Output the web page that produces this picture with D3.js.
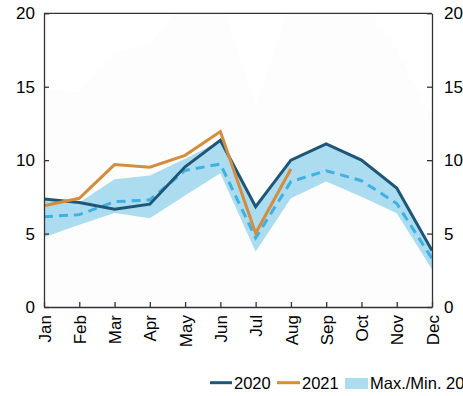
<!DOCTYPE html>
<html>
<head>
<meta charset="utf-8">
<script src="https://cdn.jsdelivr.net/npm/d3@7"></script>
<style>
  html, body { margin: 0; padding: 0; background: #fff; }
  svg { display: block; font-family: "Liberation Sans", Arial, Helvetica, sans-serif; }
</style>
</head>
<body>
<svg id="chart" width="463" height="396"></svg>
<script>
const months = ["Jan","Feb","Mar","Apr","May","Jun","Jul","Aug","Sep","Oct","Nov","Dec"];
const yTicks = [0, 5, 10, 15, 20];
const series2020 = [7.36, 7.12, 6.66, 7.0, 9.55, 11.35, 6.83, 10.0, 11.1, 10.0, 8.1, 3.84];
const series2021 = [6.9, 7.4, 9.7, 9.52, 10.33, 11.95, 5.02, 9.4];
const meanLine = [6.15, 6.29, 7.17, 7.29, 9.3, 9.74, 4.7, 8.54, 9.28, 8.6, 7.05, 3.3];
const bandMax = [7.36, 7.12, 8.7, 8.95, 10.1, 11.3, 6.83, 10.0, 11.1, 10.0, 8.1, 3.84];
const bandMin = [4.75, 5.6, 6.4, 6.04, 7.6, 9.1, 3.77, 7.4, 8.54, 7.5, 6.38, 2.57];
const histMax = [14.9, 14.6, 17.3, 17.9, 21, 21, 13.8, 21, 22, 21, 17.5, 13];
const legendLabels = ["2020", "2021", "Max./Min. 2016-2020"];

const colors = { s2020: "#1f5677", s2021: "#d48c3e", band: "#acdcf0", mean: "#3fb0e2", hist: "#fdfdfd", axis: "#333" };

const svg = d3.select("#chart");
const L = 44, R = 432, T = 13.3, B = 307;

const x = d3.scalePoint().domain(months).range([L, R]);
const y = d3.scaleLinear().domain([0, 20]).range([B, T]);

const defs = svg.append("defs");
defs.append("clipPath").attr("id", "plotclip")
  .append("rect").attr("x", L).attr("y", T).attr("width", R - L).attr("height", B - T);

const plot = svg.append("g").attr("clip-path", "url(#plotclip)");

// faint historic area
plot.append("path")
  .datum(months.map((m, i) => ({ m, v: histMax[i] })))
  .attr("fill", colors.hist)
  .attr("d", d3.area().x(d => x(d.m)).y0(y(0)).y1(d => y(d.v)));

// band
plot.append("path")
  .datum(months.map((m, i) => ({ m, lo: bandMin[i], hi: bandMax[i] })))
  .attr("fill", colors.band)
  .attr("d", d3.area().x(d => x(d.m)).y0(d => y(d.lo)).y1(d => y(d.hi)));

const line = d3.line().x(d => x(d.m)).y(d => y(d.v));

plot.append("path")
  .datum(months.map((m, i) => ({ m, v: meanLine[i] })))
  .attr("fill", "none").attr("stroke", colors.mean).attr("stroke-width", 3)
  .attr("stroke-dasharray", "9,6")
  .attr("d", line);

plot.append("path")
  .datum(months.map((m, i) => ({ m, v: series2020[i] })))
  .attr("fill", "none").attr("stroke", colors.s2020).attr("stroke-width", 3)
  .attr("stroke-linejoin", "miter")
  .attr("d", line);

plot.append("path")
  .datum(series2021.map((v, i) => ({ m: months[i], v })))
  .attr("fill", "none").attr("stroke", colors.s2021).attr("stroke-width", 3)
  .attr("d", line);

// axes
function styleAxis(g) {
  g.select(".domain").attr("stroke", colors.axis).attr("stroke-width", 1.3);
  g.selectAll(".tick line").attr("stroke", colors.axis).attr("stroke-width", 1.3);
  g.selectAll(".tick text").attr("fill", "#000").style("font-size", "17px")
    .style("font-family", "'Liberation Sans', Arial, sans-serif");
}

const gL = svg.append("g").attr("transform", `translate(${L},0)`)
  .call(d3.axisLeft(y).tickValues(yTicks).tickSizeInner(-5).tickSizeOuter(0).tickPadding(9));
styleAxis(gL);

const gR = svg.append("g").attr("transform", `translate(${R},0)`)
  .call(d3.axisRight(y).tickValues(yTicks).tickSizeInner(-5).tickSizeOuter(0).tickPadding(12));
styleAxis(gR);

const gB = svg.append("g").attr("transform", `translate(0,${B})`)
  .call(d3.axisBottom(x).tickSizeInner(-5).tickSizeOuter(0).tickPadding(8));
styleAxis(gB);
gB.selectAll(".tick text")
  .attr("transform", "rotate(-90)")
  .attr("x", -8).attr("y", 0).attr("dy", "0.36em")
  .attr("text-anchor", "end");

svg.append("line").attr("x1", L).attr("x2", R).attr("y1", T).attr("y2", T)
  .attr("stroke", colors.axis).attr("stroke-width", 1.3);

// legend
const lg = svg.append("g").style("font-size", "16.5px");
const ly = 382.7;
lg.append("line").attr("x1", 210).attr("x2", 232).attr("y1", ly).attr("y2", ly)
  .attr("stroke", colors.s2020).attr("stroke-width", 3);
lg.append("text").attr("x", 234).attr("y", ly).attr("dy", "0.36em").text(legendLabels[0]);
lg.append("line").attr("x1", 277).attr("x2", 300).attr("y1", ly).attr("y2", ly)
  .attr("stroke", colors.s2021).attr("stroke-width", 3);
lg.append("text").attr("x", 302).attr("y", ly).attr("dy", "0.36em").text(legendLabels[1]);
lg.append("rect").attr("x", 345).attr("y", 378).attr("width", 23).attr("height", 11)
  .attr("fill", colors.band);
lg.append("text").attr("x", 370).attr("y", ly).attr("dy", "0.36em").text(legendLabels[2]);
</script>
</body>
</html>
